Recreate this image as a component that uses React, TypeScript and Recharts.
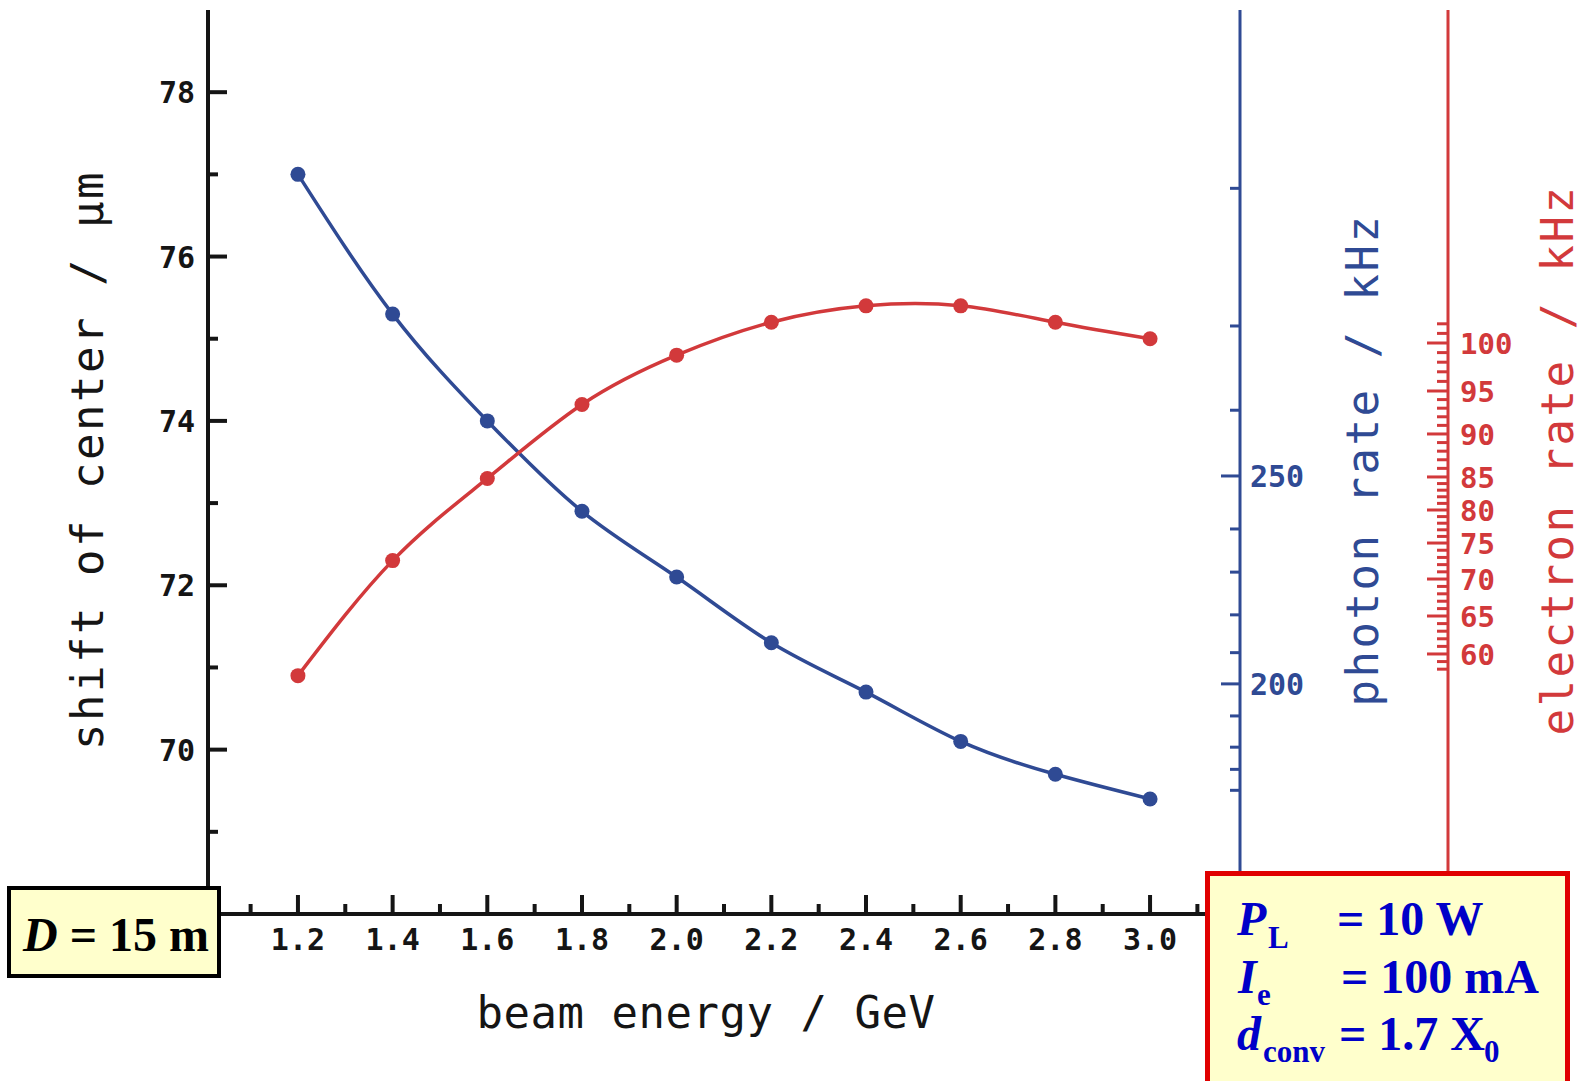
import React from 'react';
import { LineChart, Line, XAxis, YAxis } from 'recharts';

// beam energy (GeV) and the two measured curves, read in µm on the left scale
const beamEnergy = [1.2, 1.4, 1.6, 1.8, 2.0, 2.2, 2.4, 2.6, 2.8, 3.0];
const photonCurve = [77.0, 75.3, 74.0, 72.9, 72.1, 71.3, 70.7, 70.1, 69.7, 69.4];
const electronCurve = [70.9, 72.3, 73.3, 74.2, 74.8, 75.2, 75.4, 75.4, 75.2, 75.0];

const energyTicks = [1.1, 1.2, 1.3, 1.4, 1.5, 1.6, 1.7, 1.8, 1.9, 2.0, 2.1, 2.2, 2.3, 2.4, 2.5, 2.6, 2.7, 2.8, 2.9, 3.0, 3.1];
const shiftTicks = [69, 70, 71, 72, 73, 74, 75, 76, 77, 78];

// photon rate scale is not linear: where its ticks sit on the µm scale
const photonMajorAt = [73.33, 70.8];
const photonMajorLabels = ['250', '200'];
const photonMinorAt = [76.83, 75.155, 74.13, 72.685, 72.16, 71.64, 71.18, 70.41, 70.03, 69.76, 69.505];

// electron rate scale, same idea
const electronMajorLabels = ['100', '95', '90', '85', '80', '75', '70', '65', '60'];
const electronMajorAt = [74.948, 74.364, 73.841, 73.318, 72.916, 72.514, 72.076, 71.626, 71.164];

const BLACK = '#151515';
const BLUE = '#2f4a94';
const RED = '#d2393b';

const data = beamEnergy.map((e, i) => ({ energy: e, photon: photonCurve[i], electron: electronCurve[i] }));

// 1 kHz minor ticks between the labelled 5 kHz ticks
const electronMinorAt: number[] = [];
electronMajorAt.forEach((v, i) => {
  if (i < electronMajorAt.length - 1) {
    const next = electronMajorAt[i + 1];
    for (let k = 1; k < 5; k++) electronMinorAt.push(v + ((next - v) * k) / 5);
  }
});
{
  const topStep = (electronMajorAt[0] - electronMajorAt[1]) / 5;
  electronMinorAt.push(electronMajorAt[0] + topStep, electronMajorAt[0] + 2 * topStep);
  const n = electronMajorAt.length;
  const botStep = (electronMajorAt[n - 2] - electronMajorAt[n - 1]) / 5;
  electronMinorAt.push(electronMajorAt[n - 1] - botStep, electronMajorAt[n - 1] - 2 * botStep);
}

const near = (arr: number[], v: number) => arr.findIndex((a) => Math.abs(a - v) < 1e-6);

const tickFont = { fontFamily: '"DejaVu Sans Mono", monospace', fontWeight: 700, fontSize: 30 };
const titleFont = { fontFamily: '"DejaVu Sans Mono", monospace', fontSize: 44, letterSpacing: 2.5 };

const LeftTick = (props: any) => {
  const { x, y, payload } = props;
  const major = Math.round(payload.value) % 2 === 0;
  return (
    <g>
      <line x1={x} x2={x + (major ? 19 : 10)} y1={y} y2={y} stroke={BLACK} strokeWidth={4} />
      {major && (
        <text x={x - 13} y={y + 11} textAnchor="end" fill={BLACK} {...tickFont}>
          {payload.value}
        </text>
      )}
    </g>
  );
};

const BottomTick = (props: any) => {
  const { x, y, payload } = props;
  const major = Math.round(payload.value * 10) % 2 === 0;
  return (
    <g>
      <line x1={x} x2={x} y1={y} y2={y - (major ? 19 : 10)} stroke={BLACK} strokeWidth={4} />
      {major && (
        <text x={x} y={y + 36} textAnchor="middle" fill={BLACK} {...tickFont}>
          {payload.value.toFixed(1)}
        </text>
      )}
    </g>
  );
};

const TopTick = (props: any) => {
  const { x, y, payload } = props;
  const major = Math.round(payload.value * 10) % 2 === 0;
  return <line x1={x} x2={x} y1={y} y2={y + (major ? 19 : 10)} stroke={BLACK} strokeWidth={4} />;
};

const PhotonTick = (props: any) => {
  const { x, y, payload } = props;
  const idx = near(photonMajorAt, payload.value);
  const major = idx >= 0;
  return (
    <g>
      <line x1={x} x2={x - (major ? 19 : 10)} y1={y} y2={y} stroke={BLUE} strokeWidth={3} />
      {major && (
        <text x={x + 10} y={y + 11} textAnchor="start" fill={BLUE} {...tickFont}>
          {photonMajorLabels[idx]}
        </text>
      )}
    </g>
  );
};

const ElectronTick = (props: any) => {
  const { x, y, payload } = props;
  const idx = near(electronMajorAt, payload.value);
  const major = idx >= 0;
  return (
    <g>
      <line x1={x} x2={x - (major ? 21 : 11)} y1={y} y2={y} stroke={RED} strokeWidth={3} />
      {major && (
        <text x={x + 12} y={y + 11} textAnchor="start" fill={RED} {...tickFont} fontSize={29}>
          {electronMajorLabels[idx]}
        </text>
      )}
    </g>
  );
};

const serif = '"Liberation Serif", "Times New Roman", serif';

const Notes = () => (
  <svg width={1585} height={1081} style={{ position: 'absolute', left: 0, top: 0, pointerEvents: 'none' }}>
    <rect x={9} y={888} width={210} height={88} fill="#ffffcc" stroke="#000" strokeWidth={4} />
    <text x={23} y={951} fontFamily={serif} fontWeight={700} fontSize={48} fill="#000">
      <tspan fontStyle="italic">D</tspan> = 15 m
    </text>

    <rect x={1207.5} y={873.5} width={360} height={215} fill="#ffffcc" stroke="#e00000" strokeWidth={5} />
    <g fontFamily={serif} fontWeight={700} fill="#0000c8">
      <text x={1237} y={935} fontSize={48} fontStyle="italic">P</text>
      <text x={1268} y={948} fontSize={31}>L</text>
      <text x={1337} y={935} fontSize={48}>= 10 W</text>

      <text x={1238} y={993} fontSize={48} fontStyle="italic">I</text>
      <text x={1257} y={1005} fontSize={31}>e</text>
      <text x={1341} y={993} fontSize={48}>= 100 mA</text>

      <text x={1237} y={1050} fontSize={48} fontStyle="italic">d</text>
      <text x={1263} y={1062} fontSize={31}>conv</text>
      <text x={1339} y={1050} fontSize={48}>= 1.7 X</text>
      <text x={1484} y={1062} fontSize={31}>0</text>
    </g>
  </svg>
);

export default function App() {
  return (
    <div style={{ position: 'absolute', left: 0, top: 0, width: 1585, height: 1081, background: '#fff', overflow: 'hidden' }}>
      <LineChart width={1585} height={1081} data={data} margin={{ top: 10, right: 0, bottom: 0, left: 0 }}>
        <XAxis
          dataKey="energy"
          type="number"
          domain={[1.01, 3.19]}
          ticks={energyTicks}
          interval={0}
          height={167}
          tickSize={0}
          tickMargin={0}
          tickLine={false}
          axisLine={{ stroke: BLACK, strokeWidth: 4 }}
          tick={BottomTick}
          allowDataOverflow
          label={{
            content: (p: any) => (
              <text
                x={p.viewBox.x + p.viewBox.width / 2 - 18}
                y={p.viewBox.y + 114}
                textAnchor="middle"
                fill={BLACK}
                {...titleFont}
                letterSpacing={0.5}
              >
                beam energy / GeV
              </text>
            ),
          }}
        />
        <XAxis
          xAxisId="top"
          orientation="top"
          dataKey="energy"
          type="number"
          domain={[1.01, 3.19]}
          ticks={energyTicks}
          interval={0}
          height={0}
          tickSize={0}
          tickMargin={0}
          tickLine={false}
          axisLine={{ stroke: BLACK, strokeWidth: 4 }}
          tick={TopTick}
          allowDataOverflow
        />
        <YAxis
          yAxisId="left"
          orientation="left"
          type="number"
          domain={[68, 79]}
          ticks={shiftTicks}
          interval={0}
          width={208}
          tickSize={0}
          tickMargin={0}
          tickLine={false}
          axisLine={{ stroke: BLACK, strokeWidth: 4 }}
          tick={LeftTick}
          allowDataOverflow
          label={{
            content: (p: any) => {
              const cx = p.viewBox.x + 103;
              const cy = p.viewBox.y + p.viewBox.height / 2 - 2;
              return (
                <text x={cx} y={cy} transform={`rotate(-90, ${cx}, ${cy})`} textAnchor="middle" fill={BLACK} {...titleFont}>
                  shift of center / µm
                </text>
              );
            },
          }}
        />
        <YAxis
          yAxisId="rateB"
          orientation="right"
          type="number"
          domain={[68, 79]}
          ticks={[...electronMinorAt, ...electronMajorAt]}
          interval={0}
          width={137}
          tickSize={0}
          tickMargin={0}
          tickLine={false}
          axisLine={{ stroke: RED, strokeWidth: 3 }}
          tick={ElectronTick}
          allowDataOverflow
          label={{
            content: (p: any) => {
              const cx = p.viewBox.x + 125;
              const cy = p.viewBox.y + p.viewBox.height / 2 - 2;
              return (
                <text x={cx} y={cy} transform={`rotate(-90, ${cx}, ${cy})`} textAnchor="middle" fill={RED} {...titleFont}>
                  electron rate / kHz
                </text>
              );
            },
          }}
        />
        <YAxis
          yAxisId="rateA"
          orientation="right"
          type="number"
          domain={[68, 79]}
          ticks={[...photonMinorAt, ...photonMajorAt]}
          interval={0}
          width={208}
          tickSize={0}
          tickMargin={0}
          tickLine={false}
          axisLine={{ stroke: BLUE, strokeWidth: 3 }}
          tick={PhotonTick}
          allowDataOverflow
          label={{
            content: (p: any) => {
              const cx = p.viewBox.x + 138;
              const cy = p.viewBox.y + p.viewBox.height / 2 - 2;
              return (
                <text x={cx} y={cy} transform={`rotate(-90, ${cx}, ${cy})`} textAnchor="middle" fill={BLUE} {...titleFont}>
                  photon rate / kHz
                </text>
              );
            },
          }}
        />
        <Line
          yAxisId="left"
          dataKey="photon"
          type="natural"
          stroke={BLUE}
          strokeWidth={3.5}
          dot={{ r: 7.5, fill: BLUE, stroke: 'none' }}
          isAnimationActive={false}
        />
        <Line
          yAxisId="left"
          dataKey="electron"
          type="natural"
          stroke={RED}
          strokeWidth={3.5}
          dot={{ r: 7.5, fill: RED, stroke: 'none' }}
          isAnimationActive={false}
        />
      </LineChart>
      <Notes />
    </div>
  );
}
